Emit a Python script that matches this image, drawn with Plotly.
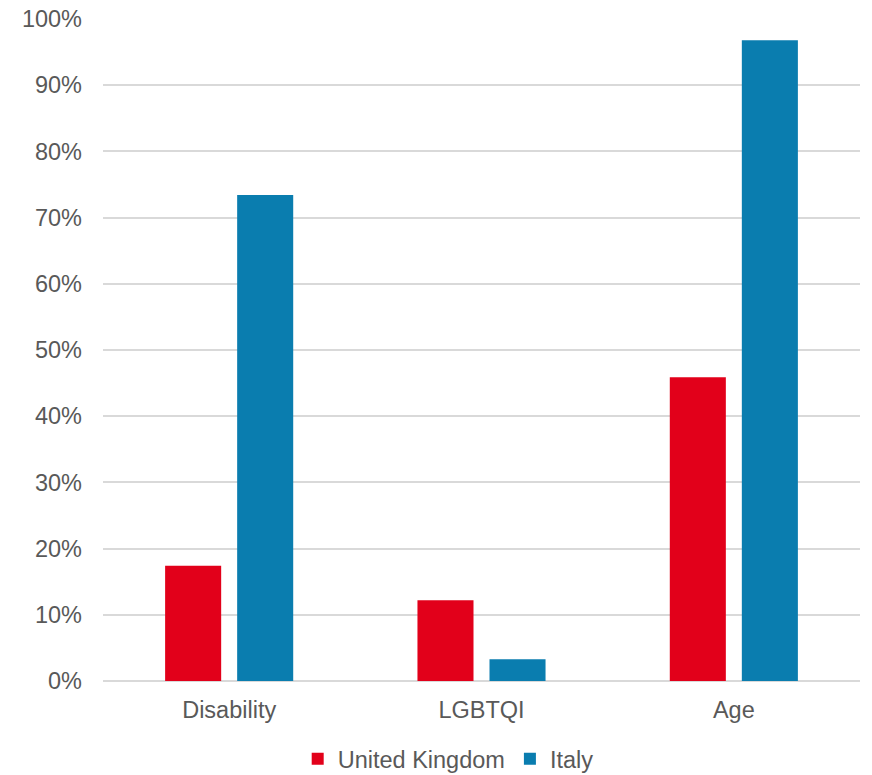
import plotly.graph_objects as go

categories = ["Disability", "LGBTQI", "Age"]
uk_values = [0.174, 0.122, 0.459]
italy_values = [0.734, 0.033, 0.968]
series_names = ["United Kingdom", "Italy"]

fig = go.Figure()
fig.add_trace(go.Bar(x=categories, y=uk_values, name=series_names[0],
                     marker=dict(color="#E2001A", line=dict(width=0))))
fig.add_trace(go.Bar(x=categories, y=italy_values, name=series_names[1],
                     marker=dict(color="#0A7DAF", line=dict(width=0))))

fig.update_layout(
    width=872, height=775,
    margin=dict(l=103, r=12, t=19, b=94, autoexpand=False),
    paper_bgcolor="white", plot_bgcolor="white",
    font=dict(family="Liberation Sans, Arial, sans-serif", size=23.5, color="#595959"),
    barmode="group", bargap=0.429, bargroupgap=0.222,
    showlegend=True,
    legend=dict(orientation="h", x=0.456, xanchor="center",
                yref="container", y=1 - 759 / 775, yanchor="middle",
                font=dict(size=23.5, color="#595959"), itemwidth=30, traceorder="normal"),
    xaxis=dict(showgrid=False, showline=False, ticks="", ticklabelstandoff=12),
    yaxis=dict(range=[0, 1], dtick=0.1, tickformat=".0%", showgrid=True,
               gridcolor="#D9D9D9", gridwidth=1.5, zeroline=True, zerolinecolor="#D9D9D9",
               zerolinewidth=1.5, showline=False, ticks="", ticklabelstandoff=20),
)

fig.write_html("out.html",
               config={"displayModeBar": False},
               post_script="document.body.style.margin='0';document.body.style.overflow='hidden';")
